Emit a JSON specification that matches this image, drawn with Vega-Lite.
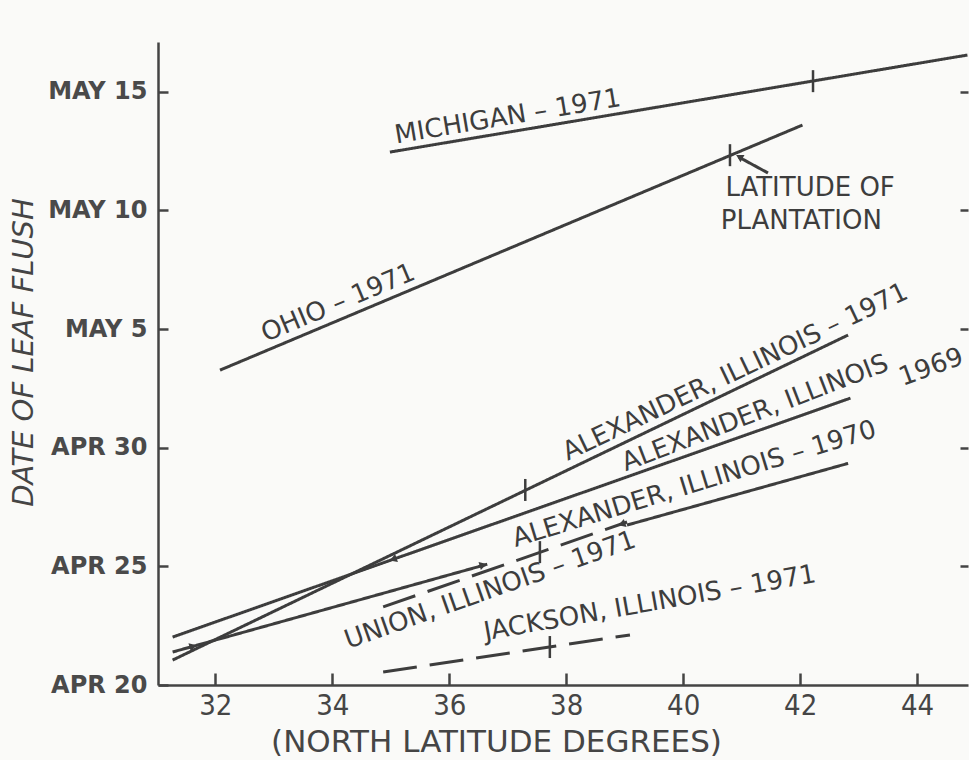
{
  "$schema": "https://vega.github.io/schema/vega-lite/v6.json",
  "width": 810,
  "height": 643,
  "autosize": "none",
  "padding": {"left": 158, "top": 42, "right": 1, "bottom": 75},
  "background": "#fafaf8",
  "config": {"view": {"stroke": null}},
  "datasets": {
    "lines": [
      {"seg": "MICHIGAN-1971", "style": "solid", "lat": 34.985, "day": 22.46},
      {"seg": "MICHIGAN-1971", "style": "solid", "lat": 44.86, "day": 26.55},
      {"seg": "OHIO-1971", "style": "solid", "lat": 32.08, "day": 13.27},
      {"seg": "OHIO-1971", "style": "solid", "lat": 42.04, "day": 23.6},
      {"seg": "ALEXANDER-1971", "style": "solid", "lat": 31.27, "day": 1.05},
      {"seg": "ALEXANDER-1971", "style": "solid", "lat": 42.82, "day": 14.75},
      {"seg": "ALEXANDER-1969", "style": "solid", "lat": 31.27, "day": 2.02},
      {"seg": "ALEXANDER-1969", "style": "solid", "lat": 42.86, "day": 12.09},
      {"seg": "ALEXANDER-1970a", "style": "solid", "lat": 31.27, "day": 1.39},
      {"seg": "ALEXANDER-1970a", "style": "solid", "lat": 36.65, "day": 5.09},
      {"seg": "ALEXANDER-1970b", "style": "solid", "lat": 39.04, "day": 6.74},
      {"seg": "ALEXANDER-1970b", "style": "solid", "lat": 42.82, "day": 9.34},
      {"seg": "UNION-1971", "style": "dashed", "lat": 34.87, "day": 3.29},
      {"seg": "UNION-1971", "style": "dashed", "lat": 39.04, "day": 6.87},
      {"seg": "JACKSON-1971", "style": "dashed", "lat": 34.87, "day": 0.55},
      {"seg": "JACKSON-1971", "style": "dashed", "lat": 39.09, "day": 2.11},
      {"seg": "pointer", "style": "solid", "lat": 41.45, "day": 21.58},
      {"seg": "pointer", "style": "solid", "lat": 40.95, "day": 22.25}
    ],
    "ticks": [
      {"lat": 42.22, "day": 25.45},
      {"lat": 40.80, "day": 22.33},
      {"lat": 37.30, "day": 8.22},
      {"lat": 37.55, "day": 5.6},
      {"lat": 37.72, "day": 1.6}
    ],
    "arrows": [
      {"lat": 31.62, "day": 1.63, "ang": 344},
      {"lat": 36.58, "day": 5.06, "ang": 344},
      {"lat": 35.04, "day": 5.30, "ang": 160.6},
      {"lat": 38.95, "day": 6.78, "ang": 160.8},
      {"lat": 40.96, "day": 22.26, "ang": 208.7}
    ],
    "labels": [
      {"text": "MICHIGAN – 1971", "lat": 37.0, "day": 23.95, "ang": -9.5},
      {"text": "OHIO – 1971", "lat": 34.10, "day": 16.10, "ang": -22.8},
      {"text": "ALEXANDER, ILLINOIS – 1971", "lat": 40.89, "day": 13.19, "ang": -25.5},
      {"text": "ALEXANDER, ILLINOIS", "lat": 41.23, "day": 11.46, "ang": -21},
      {"text": "1969", "lat": 44.24, "day": 13.40, "ang": -20},
      {"text": "ALEXANDER, ILLINOIS – 1970", "lat": 40.19, "day": 8.47, "ang": -17},
      {"text": "UNION, ILLINOIS – 1971", "lat": 36.70, "day": 4.0, "ang": -19.5},
      {"text": "JACKSON, ILLINOIS – 1971", "lat": 39.43, "day": 3.45, "ang": -10},
      {"text": "LATITUDE OF", "lat": 42.17, "day": 20.94, "ang": 0},
      {"text": "PLANTATION", "lat": 42.02, "day": 19.55, "ang": 0}
    ]
  },
  "encoding": {
    "x": {
      "field": "lat",
      "type": "quantitative",
      "scale": {"domain": [31.02, 44.87], "nice": false, "zero": false},
      "axis": {
        "values": [32, 34, 36, 38, 40, 42, 44],
        "grid": false,
        "tickSize": -12,
        "tickWidth": 2.5,
        "tickColor": "#444444",
        "domainColor": "#444444",
        "domainWidth": 2.5,
        "labelFont": "DejaVu Sans Condensed, DejaVu Sans, sans-serif",
        "labelFontSize": 29,
        "labelColor": "#454545",
        "labelPadding": 18,
        "title": "(NORTH LATITUDE DEGREES)",
        "titleFont": "DejaVu Sans",
        "titleFontSize": 31,
        "titleFontWeight": "normal",
        "titleColor": "#454545",
        "titleX": 338,
        "titleY": 66,
        "titleBaseline": "alphabetic"
      }
    }
  },
  "resolve": {"axis": {"y": "independent"}},
  "layer": [
    {
      "data": {"name": "lines"},
      "mark": {"type": "line", "color": "#3d3d3d", "strokeWidth": 3},
      "encoding": {
        "y": {
          "field": "day",
          "type": "quantitative",
          "scale": {"domain": [0, 27.1], "nice": false, "zero": false},
          "axis": {
            "values": [0, 5, 10, 15, 20, 25],
            "labelExpr": "['APR 20','APR 25','APR 30','MAY 5','MAY 10','MAY 15'][round(datum.value/5)]",
            "grid": false,
            "tickSize": -10,
            "tickWidth": 2.5,
            "tickColor": "#444444",
            "domainColor": "#444444",
            "domainWidth": 2.5,
            "labelFont": "DejaVu Sans",
            "labelFontWeight": "bold",
            "labelFontSize": 24,
            "labelColor": "#4a4a4a",
            "labelPadding": 21,
            "title": "DATE OF LEAF FLUSH",
            "titleFont": "DejaVu Sans",
            "titleFontStyle": "italic",
            "titleFontWeight": "normal",
            "titleFontSize": 29,
            "titleColor": "#454545",
            "titleX": -126,
            "titleY": 310,
            "titleBaseline": "alphabetic"
          }
        },
        "detail": {"field": "seg", "type": "nominal"},
        "strokeDash": {
          "field": "style",
          "type": "nominal",
          "scale": {"domain": ["solid", "dashed"], "range": [[1, 0], [34, 13]]},
          "legend": null
        }
      }
    },
    {
      "data": {"name": "ticks"},
      "mark": {"type": "tick", "orient": "vertical", "color": "#3d3d3d", "thickness": 2.5, "size": 22, "opacity": 1},
      "encoding": {
        "y": {
          "field": "day",
          "type": "quantitative",
          "scale": {"domain": [0, 27.1], "nice": false, "zero": false},
          "axis": {
            "orient": "right",
            "values": [5, 10, 15, 20, 25],
            "domain": false,
            "labels": false,
            "grid": false,
            "title": null,
            "tickSize": -8,
            "tickWidth": 2.5,
            "tickColor": "#444444"
          }
        }
      }
    },
    {
      "data": {"name": "arrows"},
      "mark": {"type": "point", "shape": "triangle-right", "filled": true, "color": "#3d3d3d", "size": 70, "opacity": 1},
      "encoding": {
        "y": {"field": "day", "type": "quantitative", "scale": {"domain": [0, 27.1], "nice": false, "zero": false}, "axis": null},
        "angle": {"field": "ang", "type": "quantitative", "scale": null}
      }
    },
    {
      "data": {"name": "labels"},
      "mark": {"type": "text", "font": "DejaVu Sans", "fontSize": 26, "color": "#3d3d3d", "align": "center", "baseline": "middle"},
      "encoding": {
        "y": {"field": "day", "type": "quantitative", "scale": {"domain": [0, 27.1], "nice": false, "zero": false}, "axis": null},
        "text": {"field": "text", "type": "nominal"},
        "angle": {"field": "ang", "type": "quantitative", "scale": null}
      }
    }
  ]
}
